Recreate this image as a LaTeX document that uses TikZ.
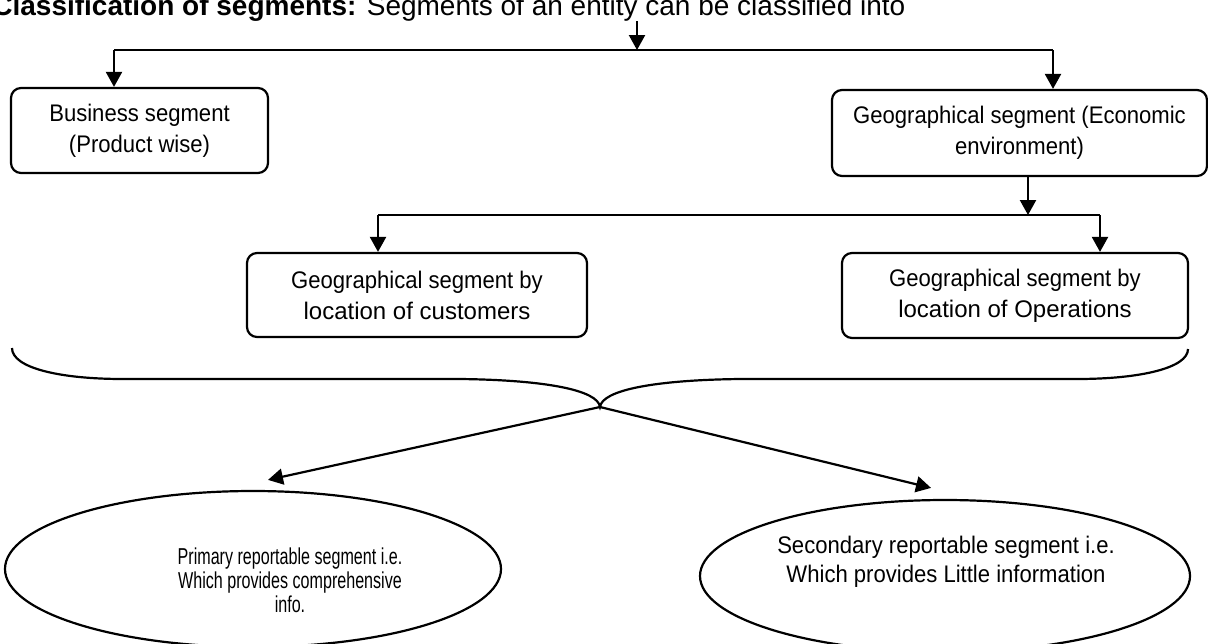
\documentclass[tikz,border=0pt]{standalone}
\usepackage{fontspec}
\setmainfont{Liberation Sans}
\newfontfamily\boxfont{Liberation Sans}[FakeStretch=0.92]
\newfontfamily\ovalfont{Liberation Sans}[FakeStretch=0.7]
\usetikzlibrary{arrows.meta, positioning, shapes.geometric}
\tikzset{
  segbox/.style={draw, rounded corners=5pt, line width=1.1pt, align=center,
    inner sep=0pt, font=\boxfont\fontsize{12}{15.5}\selectfont},
  segoval/.style={draw, ellipse, line width=1.1pt, inner sep=0pt},
  ovaltext/.style={align=center, inner sep=0pt, anchor=north},
  segarrow/.style={-{Triangle[length=7.5pt,width=8pt]}, line width=1.1pt},
  segline/.style={line width=1.1pt},
}
\newcommand{\locfont}[1]{{\normalfont\fontsize{12}{15.5}\selectfont #1}}

\begin{document}
\begin{tikzpicture}[x=0.5pt,y=-0.5pt]
  \useasboundingbox (0,0) rectangle (1208,643);
  \clip (0,0) rectangle (1208,643);
  % title and first split
  \node[anchor=base west, inner sep=0pt, font=\fontsize{14}{16}\selectfont] (title) at (-8,15)
    {\textbf{Classification of segments:} Segments of an entity can be classified into};
  \coordinate (topjoin) at (637,50);
  \coordinate (topl) at (114,50);
  \coordinate (topr) at (1053,50);
  \node[segbox, minimum width=128.5pt, minimum height=42.5pt] (busseg) at (139.5,130.5)
    {Business segment\\(Product wise)};
  \node[segbox, minimum width=187.5pt, minimum height=43pt] (geoseg) at (1019.5,133)
    {Geographical segment (Economic\\environment)};
  \draw[segarrow] (title.south -| topjoin) -- (topjoin);
  \draw[segline] (topl) -- (topr);
  \draw[segarrow] (topl) -- (topl |- busseg.north);
  \draw[segarrow] (topr) -- (topr |- geoseg.north);
  % second split
  \coordinate (midjoin) at (1028,215);
  \coordinate (midl) at (378,215);
  \coordinate (midr) at (1100,215);
  \node[segbox, minimum width=170pt, minimum height=42pt] (custseg) at (417,295)
    {Geographical segment by\\\locfont{location of customers}};
  \node[segbox, minimum width=173pt, minimum height=42.5pt] (operseg) at (1015,295.5)
    {Geographical segment by\\\locfont{location of Operations}};
  \draw[segarrow] (midjoin |- geoseg.south) -- (midjoin);
  \draw[segline] (midl) -- (midr);
  \draw[segarrow] (midl) -- (midl |- custseg.north);
  \draw[segarrow] (midr) -- (midr |- operseg.north);
  % brace
  \coordinate (bracetip) at (600,407);
  \draw[segline] (12,348) .. controls (12,368) and (60,379) .. (123,379) -- (460,379)
    .. controls (545,380) and (598,390) .. (bracetip)
    .. controls (602,390) and (655,380) .. (740,379) -- (1077,379)
    .. controls (1140,379) and (1188,368) .. (1188,349);
  % reportable segments
  \node[segoval, minimum width=248pt, minimum height=78pt] (primseg) at (253,569) {};
  \node[segoval, minimum width=245pt, minimum height=76pt] (secseg) at (945,576) {};
  \node[ovaltext, font=\ovalfont\fontsize{11.5}{12}\selectfont] (primtext) at (290,547)
    {Primary reportable segment i.e.\\Which provides comprehensive\\info.};
  \node[ovaltext, font=\boxfont\fontsize{12}{14.5}\selectfont] (sectext) at (946,536)
    {Secondary reportable segment i.e.\\Which provides Little information};
  \draw[segarrow] (bracetip) -- ([shift={(15,-10)}]primseg.north);
  \draw[segarrow] (bracetip) -- ([shift={(-14,-11)}]secseg.north);
\end{tikzpicture}
\end{document}
